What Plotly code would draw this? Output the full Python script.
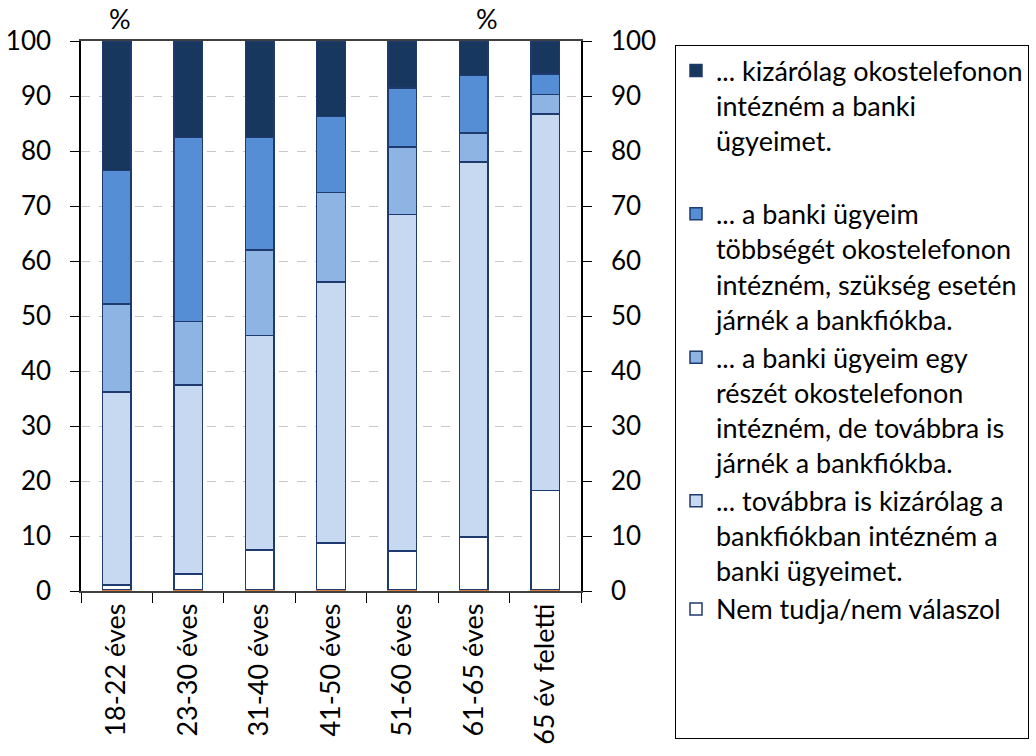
import plotly.graph_objects as go

categories = ["18-22 éves", "23-30 éves", "31-40 éves", "41-50 éves",
              "51-60 éves", "61-65 éves", "65 év feletti"]

other = [0.3, 0.3, 0.3, 0.3, 0.3, 0.3, 0.3]
nem_tudja = [0.8, 2.8, 7.2, 8.4, 7.0, 9.5, 18.0]
csak_fiok = [35.1, 34.4, 39.0, 47.5, 61.2, 68.2, 68.4]
reszben = [16.0, 11.5, 15.5, 16.3, 12.2, 5.3, 3.6]
tobbseg = [24.3, 33.5, 20.5, 13.8, 10.8, 10.4, 3.7]
csak_okos = [23.5, 17.5, 17.5, 13.7, 8.5, 6.3, 6.0]

names = [
    "",
    "Nem tudja/nem válaszol<br> <br> <br> ",
    "... továbbra is kizárólag a<br>bankfiókban intézném a<br>banki ügyeimet.",
    "... a banki ügyeim egy<br>részét okostelefonon<br>intézném, de továbbra is<br>járnék a bankfiókba.",
    "... a banki ügyeim<br>többségét okostelefonon<br>intézném, szükség esetén<br>járnék a bankfiókba.",
    "... kizárólag okostelefonon<br>intézném a banki<br>ügyeimet.<br> ",
]
series = [other, nem_tudja, csak_fiok, reszben, tobbseg, csak_okos]
colors = ["#E07B39", "#FFFFFF", "#C6D9F1", "#8EB4E3", "#558ED5", "#17375E"]
edge = "#1F3A6E"

FONT = "Lato"
fig = go.Figure()
for i, (nm, vals, col) in enumerate(zip(names, series, colors)):
    fig.add_trace(go.Bar(
        x=categories, y=vals, name=nm, marker_color=col,
        marker_line=dict(color=col if i == 0 else edge, width=1.5),
        showlegend=(i != 0), width=0.4,
    ))

fig.update_layout(
    barmode="stack",
    width=1036, height=756,
    margin=dict(l=81, r=455, t=41, b=165, autoexpand=False),
    paper_bgcolor="white", plot_bgcolor="white",
    font=dict(family=FONT, size=27, color="black"),
    xaxis=dict(
        tickangle=-90, showline=True, linecolor="#404040", linewidth=1.5,
        mirror=True, ticks="outside", tickson="boundaries", ticklen=10,
        tickcolor="black", tickfont=dict(size=27), showgrid=False,
        automargin=False,
    ),
    yaxis=dict(
        range=[0, 100], tick0=0, dtick=10, showline=True, linecolor="black",
        linewidth=1.5, ticks="outside", ticklen=9, tickcolor="black",
        showgrid=True, gridcolor="#C8C8C8", griddash="dash", gridwidth=1,
        zeroline=False, tickfont=dict(size=26), automargin=False,
        ticklabelstandoff=14,
    ),
    yaxis2=dict(
        range=[0, 100], tick0=0, dtick=10, overlaying="y", side="right",
        anchor="x", showline=True, linecolor="black", linewidth=1.5,
        ticks="outside", ticklen=9, tickcolor="black", showgrid=False,
        zeroline=False, tickfont=dict(size=26), automargin=False,
        ticklabelstandoff=14,
    ),
    legend=dict(
        x=1.188, y=0.992, xanchor="left", yanchor="top",
        traceorder="reversed", valign="top",
        bordercolor="black", borderwidth=1,
        font=dict(family=FONT, size=27),
        itemwidth=30, maxheight=740,
    ),
    annotations=[
        dict(text="%", x=0, y=1.0, xref="x", yref="paper", showarrow=False,
             yanchor="bottom", yshift=4, xshift=3, font=dict(size=27)),
        dict(text="%", x=5, y=1.0, xref="x", yref="paper", showarrow=False,
             yanchor="bottom", yshift=4, xshift=13, font=dict(size=27)),
    ],
)
# empty trace anchoring the right axis
fig.add_trace(go.Scatter(x=categories, y=[None] * len(categories), yaxis="y2",
                         showlegend=False, hoverinfo="skip"))

fig.write_html("out.html", config={"displayModeBar": False},
               post_script="document.body.style.margin='0';")
